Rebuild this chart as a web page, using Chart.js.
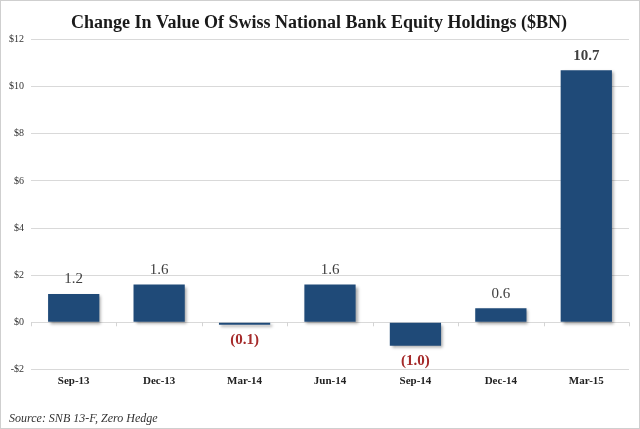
<!DOCTYPE html>
<html>
<head>
<meta charset="utf-8">
<script src="https://cdn.jsdelivr.net/npm/chart.js@4/dist/chart.umd.min.js"></script>
<style>
  html, body { margin: 0; padding: 0; background: #fff; }
  #wrap { width: 640px; height: 429px; box-sizing: border-box; border: 1px solid #cfcfcf; }
  canvas { display: block; }
</style>
</head>
<body>
<div id="wrap"><canvas id="chart" width="638" height="427"></canvas></div>
<script>
// datos del grafico
const quarters = ['Sep-13', 'Dec-13', 'Mar-14', 'Jun-14', 'Sep-14', 'Dec-14', 'Mar-15'];
const changeBn = [1.2, 1.6, -0.1, 1.6, -1.0, 0.6, 10.7];
const yTicks = [-2, 0, 2, 4, 6, 8, 10, 12];

const serif = '"Liberation Serif", "DejaVu Serif", serif';

// etiquetas encima / debajo de cada barra
const barLabels = {
    id: 'barLabels',
    afterDatasetsDraw(chart) {
        const ctx = chart.ctx;
        const meta = chart.getDatasetMeta(0);
        ctx.save();
        ctx.textAlign = 'center';
        meta.data.forEach((bar, i) => {
            const v = changeBn[i];
            if (v >= 0) {
                ctx.fillStyle = '#404040';
                ctx.font = (v > 10 ? 'bold ' : '') + '15px ' + serif;
                ctx.textBaseline = 'bottom';
                ctx.fillText(v.toFixed(1), bar.x, bar.y - 7);
            } else {
                ctx.fillStyle = '#a52a2a';
                ctx.font = 'bold 15px ' + serif;
                ctx.textBaseline = 'top';
                ctx.fillText('(' + Math.abs(v).toFixed(1) + ')', bar.x, bar.y + 8);
            }
        });
        ctx.restore();
    }
};

// sombra de las barras y marcas en la linea de cero
const barShadow = {
    id: 'barShadow',
    beforeDatasetsDraw(chart) {
        const ctx = chart.ctx;
        const x = chart.scales.x;
        const y0 = chart.scales.y.getPixelForValue(0);
        const step = (x.right - x.left) / quarters.length;
        ctx.save();
        ctx.strokeStyle = '#d4d4d4';
        ctx.lineWidth = 1;
        for (let i = 0; i <= quarters.length; i++) {
            const px = Math.round(x.left + i * step) + 0.5;
            ctx.beginPath();
            ctx.moveTo(px, y0);
            ctx.lineTo(px, y0 + 4);
            ctx.stroke();
        }
        ctx.restore();
        ctx.save();
        ctx.shadowColor = 'rgba(0,0,0,0.35)';
        ctx.shadowBlur = 3;
        ctx.shadowOffsetX = 2;
        ctx.shadowOffsetY = 2;
    },
    afterDatasetsDraw(chart) {
        chart.ctx.restore();
    }
};

const ctx = document.getElementById('chart').getContext('2d');
new Chart(ctx, {
    type: 'bar',
    data: {
        labels: quarters,
        datasets: [{
            data: changeBn,
            backgroundColor: '#1f4a78',
            borderWidth: 0,
            barPercentage: 0.6,
            categoryPercentage: 1.0
        }]
    },
    options: {
        responsive: false,
        animation: false,
        devicePixelRatio: 1,
        layout: { padding: { left: 8, right: 10, top: 0, bottom: 2 } },
        plugins: {
            legend: { display: false },
            tooltip: { enabled: false },
            title: {
                display: true,
                text: 'Change In Value Of Swiss National Bank Equity Holdings ($BN)',
                color: '#1a1a1a',
                font: { family: serif, size: 18, weight: 'bold' },
                padding: { top: 12, bottom: 5 }
            },
            subtitle: {
                display: true,
                position: 'bottom',
                align: 'start',
                text: 'Source: SNB 13-F, Zero Hedge',
                color: '#333',
                font: { family: serif, size: 12, style: 'italic' },
                padding: { top: 19, bottom: 0 }
            }
        },
        scales: {
            x: {
                grid: { display: false, drawTicks: false },
                border: { display: false },
                ticks: {
                    color: '#222',
                    font: { family: serif, size: 11, weight: 'bold' },
                    padding: 5
                }
            },
            y: {
                min: -2,
                max: 12,
                afterBuildTicks(scale) {
                    scale.ticks = yTicks.map(v => ({ value: v }));
                },
                afterFit(scale) { scale.width = 22; },
                grid: { color: '#d9d9d9', lineWidth: 1, drawTicks: false },
                border: { display: false },
                ticks: {
                    color: '#333',
                    padding: 7,
                    font: { family: serif, size: 10 },
                    callback: v => (v < 0 ? '-$' + Math.abs(v) : '$' + v)
                }
            }
        }
    },
    plugins: [barShadow, barLabels]
});
</script>
</body>
</html>
